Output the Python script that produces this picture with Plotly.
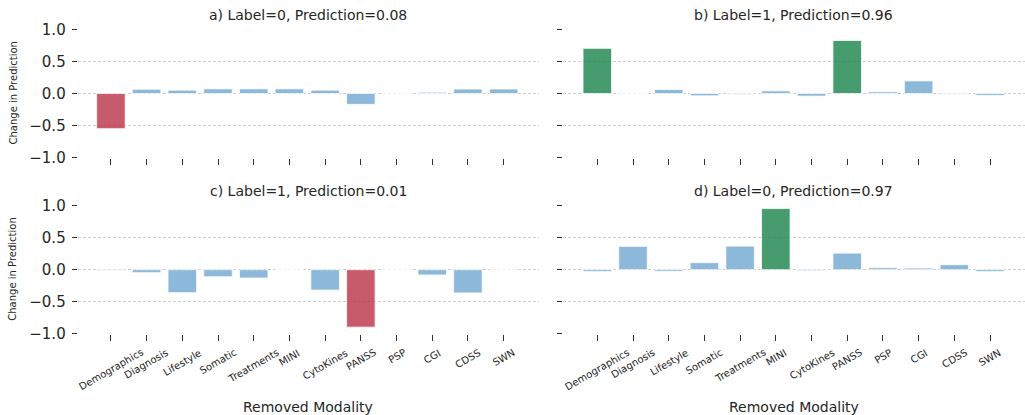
import plotly.graph_objects as go

categories = ["Demographics", "Diagnosis", "Lifestyle", "Somatic", "Treatments", "MINI",
              "CytoKines", "PANSS", "PSP", "CGI", "CDSS", "SWN"]

panel_a = [-0.55, 0.067, 0.052, 0.073, 0.073, 0.073, 0.052, -0.17, 0.0, 0.02, 0.07, 0.07]
panel_b = [0.705, 0.003, 0.062, -0.036, -0.016, 0.041, -0.041, 0.829, 0.026, 0.197, -0.01, -0.03]
panel_c = [-0.01, -0.047, -0.36, -0.11, -0.13, 0.0, -0.32, -0.90, 0.0, -0.083, -0.365, 0.0]
panel_d = [-0.03, 0.365, -0.026, 0.11, 0.37, 0.958, -0.016, 0.26, 0.031, 0.026, 0.078, -0.03]

titles = ["a) Label=0, Prediction=0.08", "b) Label=1, Prediction=0.96",
          "c) Label=1, Prediction=0.01", "d) Label=0, Prediction=0.97"]
y_ticks = [-1.0, -0.5, 0.0, 0.5, 1.0]

W, H = 1025, 415
FONT = "DejaVu Sans"
TXT = "#262626"
RED = "rgb(186,51,71)"
GREEN = "rgb(24,132,74)"
BLUE = "rgb(112,167,208)"


def px(x):
    return x / W


def py(y):
    return 1 - y / H


def color_of(v):
    if v > 0.5:
        return GREEN
    if v < -0.5:
        return RED
    return BLUE


X_LEFT = [px(77.7), px(539)]
X_RIGHT = [px(562.5), 1.0]
Y_TOP = [py(157.7), py(29.3)]
Y_BOT = [py(333.7), py(205.7)]
XR_LEFT = [-0.93, 11.99]
XR_RIGHT = [-0.975, 11.98]

panels = [panel_a, panel_b, panel_c, panel_d]
xdoms = [X_LEFT, X_RIGHT, X_LEFT, X_RIGHT]
ydoms = [Y_TOP, Y_TOP, Y_BOT, Y_BOT]
xranges = [XR_LEFT, XR_RIGHT, XR_LEFT, XR_RIGHT]

fig = go.Figure()
annotations = []
layout = {}
for i, vals in enumerate(panels):
    n = "" if i == 0 else str(i + 1)
    fig.add_trace(go.Bar(
        x=categories, y=vals, xaxis="x" + n, yaxis="y" + n, width=0.8,
        marker=dict(color=[color_of(v) for v in vals], opacity=0.8,
                    line=dict(color="rgba(255,255,255,0.8)", width=1)),
        showlegend=False, hoverinfo="x+y"))
    layout["xaxis" + n] = dict(
        domain=xdoms[i], anchor="y" + n, type="category", range=xranges[i],
        automargin=False,
        showgrid=False, zeroline=False, showline=False,
        ticks="outside", ticklen=6, tickwidth=1.3, tickcolor="#333",
        showticklabels=False)
    layout["yaxis" + n] = dict(
        domain=ydoms[i], anchor="x" + n, range=[-1.003, 1.003],
        automargin=False,
        tickvals=y_ticks, tickformat=".1f",
        showgrid=True, gridcolor="#cfcfcf", gridwidth=0.8, griddash="3px,2px",
        zeroline=False, showline=False,
        ticks="outside", ticklen=5, tickwidth=1.3, tickcolor="#333",
        showticklabels=(i % 2 == 0), ticklabelstandoff=3,
        tickfont=dict(family=FONT, size=15, color=TXT))
    xc = (xdoms[i][0] + xdoms[i][1]) / 2
    ytitle = py(15) if i < 2 else py(191.5)
    annotations.append(dict(text=titles[i], x=xc, y=ytitle, xref="paper", yref="paper",
                            xanchor="center", yanchor="middle", showarrow=False,
                            font=dict(family=FONT, size=14, color=TXT)))
    if i % 2 == 0:
        yc = (ydoms[i][0] + ydoms[i][1]) / 2
        annotations.append(dict(text="Change in Prediction", x=px(13), y=yc,
                                xref="paper", yref="paper", textangle=-90,
                                xanchor="center", yanchor="middle", showarrow=False,
                                font=dict(family=FONT, size=10, color=TXT)))
    if i >= 2:
        for c in categories:
            annotations.append(dict(text=c, x=c, y=py(345.5), xref="x" + n, yref="paper",
                                    textangle=-30, xanchor="center", yanchor="top",
                                    showarrow=False, borderpad=0,
                                    font=dict(family=FONT, size=10, color=TXT)))
        annotations.append(dict(text="Removed Modality", x=xc, y=py(406.5),
                                xref="paper", yref="paper", xanchor="center",
                                yanchor="middle", showarrow=False,
                                font=dict(family=FONT, size=14, color=TXT)))

fig.update_layout(
    template="none",
    width=W, height=H, autosize=False, margin=dict(l=0, r=0, t=0, b=0, pad=0),
    paper_bgcolor="white", plot_bgcolor="white",
    font=dict(family=FONT, color=TXT),
    annotations=annotations, bargap=0.2, **layout)

fig.write_html("out.html", config={"displayModeBar": False},
               post_script="document.body.style.margin='0px';document.body.style.overflow='hidden';")
